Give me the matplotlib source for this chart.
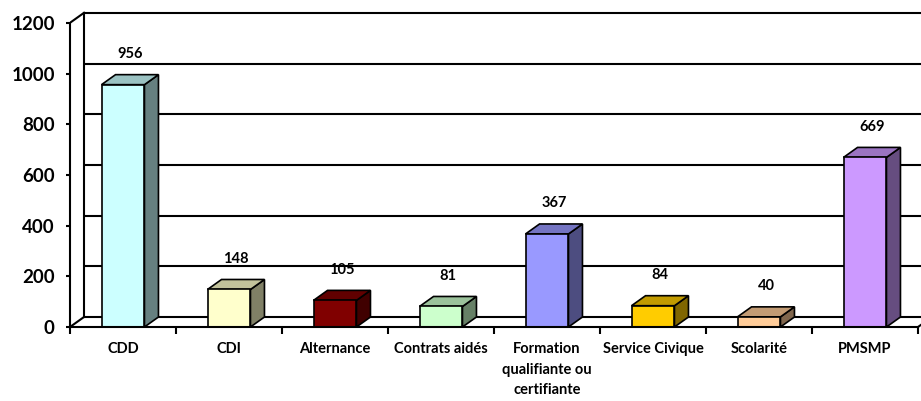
import matplotlib
matplotlib.use("Agg")
import matplotlib.pyplot as plt
from matplotlib.patches import Polygon
import numpy as np

categories = ["CDD", "CDI", "Alternance", "Contrats aidés",
              "Formation\nqualifiante ou\ncertifiante", "Service Civique",
              "Scolarité", "PMSMP"]
values = [956, 148, 105, 81, 367, 84, 40, 669]
colors = ["#CCFFFF", "#FFFFCC", "#800000", "#CCFFCC",
          "#9999FF", "#FFCC00", "#FFCC99", "#CC99FF"]
yticks = [0, 200, 400, 600, 800, 1000, 1200]

W, H = 921, 401
fig = plt.figure(figsize=(W / 100, H / 100), dpi=100)
plt.rcParams['font.family'] = ['Lato', 'DejaVu Sans']

px_per_cat = 106.0
px_per_unit = 0.2535
x0_px, y0_px = 70, 327
dx_px, dy_px = 14, 10
dxc = dx_px / px_per_cat
dyv = dy_px / px_per_unit

ymax = 1260
xmax = 7.5 + dxc
ax_w = (xmax + 0.5) * px_per_cat
ax_h = ymax * px_per_unit
ax = fig.add_axes([x0_px / W, (H - y0_px) / H, ax_w / W, ax_h / H])
ax.set_xlim(-0.5, xmax)
ax.set_ylim(0, ymax)
ax.set_facecolor("white")

lw_grid = 1.5
# back wall gridlines
for v in yticks:
    ax.plot([-0.5 + dxc, xmax + 1], [v + dyv, v + dyv], color="black", lw=lw_grid, zorder=1,
            solid_capstyle="butt", clip_on=False)
# left wall
ax.plot([-0.5 + dxc, -0.5 + dxc], [dyv, 1200 + dyv], color="black", lw=lw_grid, zorder=1)
ax.plot([-0.5, -0.5 + dxc], [1200, 1200 + dyv], color="black", lw=lw_grid, zorder=1)
ax.plot([-0.5, -0.5 + dxc], [0, dyv], color="black", lw=lw_grid, zorder=1)
# floor right edge
ax.plot([7.5, 7.5 + dxc], [0, dyv], color="black", lw=lw_grid, zorder=1, clip_on=False)

def shade(c, f):
    r, g, b = matplotlib.colors.to_rgb(c)
    return (r * f, g * f, b * f)

w = 0.405
for i, (v, c) in enumerate(zip(values, colors)):
    xl, xr = i - w / 2, i + w / 2
    front = Polygon([(xl, 0), (xr, 0), (xr, v), (xl, v)], closed=True,
                    facecolor=c, edgecolor="black", lw=1.2, zorder=3)
    top = Polygon([(xl, v), (xr, v), (xr + dxc, v + dyv), (xl + dxc, v + dyv)], closed=True,
                  facecolor=shade(c, 0.76), edgecolor="black", lw=1.2, zorder=3)
    side = Polygon([(xr, 0), (xr + dxc, dyv), (xr + dxc, v + dyv), (xr, v)], closed=True,
                   facecolor=shade(c, 0.5), edgecolor="black", lw=1.2, zorder=3)
    for p in (side, top, front):
        ax.add_patch(p)
    ax.annotate(str(v), xy=(i + dxc / 2, v + dyv), xytext=(0, 15), textcoords="offset points",
                ha="center", va="center", fontsize=10.5, fontweight="bold", color="black",
                zorder=5)

# spines
for s in ["top", "right"]:
    ax.spines[s].set_visible(False)
ax.spines["left"].set_bounds(0, 1200)
ax.spines["bottom"].set_bounds(-0.5, 7.5)
ax.spines["left"].set_linewidth(lw_grid)
ax.spines["bottom"].set_linewidth(lw_grid)
ax.spines["left"].set_zorder(4)
ax.spines["bottom"].set_zorder(4)

ax.set_yticks(yticks)
ax.set_yticklabels([str(t) for t in yticks], fontsize=13.5, fontweight="bold")
ax.tick_params(axis="y", direction="out", length=3, width=lw_grid, pad=8)

ax.set_xticks(np.arange(-0.5, 8.0, 1.0))
ax.set_xticklabels([])
ax.tick_params(axis="x", which="major", direction="out", length=5, width=lw_grid)
ax.set_xticks(np.arange(len(categories)), minor=True)
ax.set_xticklabels(categories, minor=True, fontsize=10.5, fontweight="bold", linespacing=1.6)
ax.tick_params(axis="x", which="minor", length=0, pad=11)

fig.savefig("out.png", dpi=100, facecolor="white")
